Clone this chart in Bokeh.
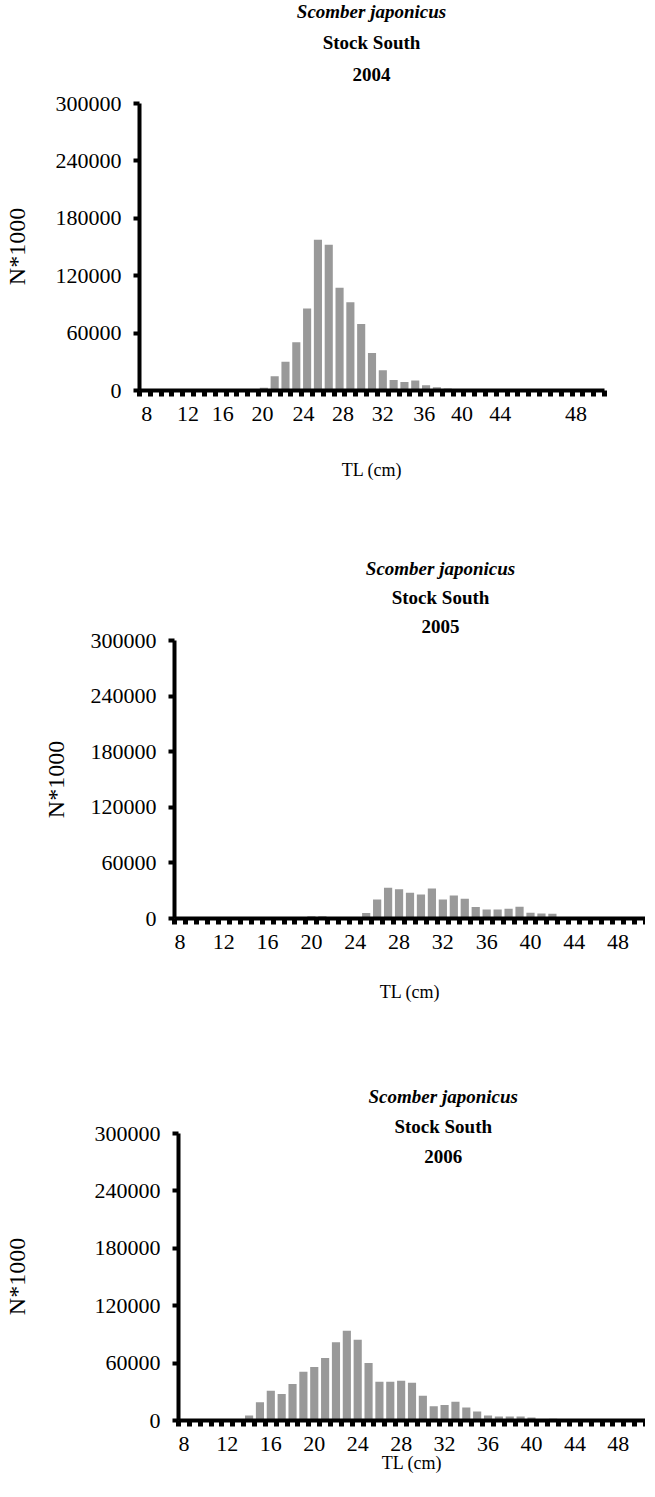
from bokeh.plotting import figure
from bokeh.models import FixedTicker, Label, Range1d, NumeralTickFormatter
from bokeh.embed import file_html
from bokeh.resources import INLINE

# ---------------- data ----------------
tl_cm = list(range(8, 51))  # length classes, 1 cm

n_2004 = [0, 0, 0, 0, 0, 0, 0, 0, 0, 0, 0,            # 8-18
          2800, 15000, 30000, 50400, 85600, 157600,   # 19-24
          152300, 107500, 92200, 69600, 39300, 21200, # 25-30
          11000, 9000, 10400, 5500, 3500, 2100, 1000, # 31-37
          0, 0, 0, 0, 0, 0, 0, 0, 0, 0, 0, 0, 0]      # 38-50

n_2005 = [0, 0, 0, 0, 0, 0, 0, 0, 0, 0, 0, 0,         # 8-19
          2500, 2500, 0, 0, 0, 6000,                  # 20-25
          20500, 33300, 31500, 27800, 26000, 32500,   # 26-31
          20500, 24900, 21300, 12500, 9800, 9800,     # 32-37
          10400, 12700, 6200, 5500, 5100, 1000,       # 38-43
          0, 0, 0, 0, 0, 0, 0]                        # 44-50

n_2006 = [0, 0, 0, 0, 0, 0,                           # 8-13
          5200, 19000, 31200, 27700, 38100, 51000,    # 14-19
          56000, 65400, 81700, 93700, 84400, 60000,   # 20-25
          40500, 40500, 41500, 39500, 26000, 14900,   # 26-31
          16300, 19700, 13500, 9300, 5200, 4200,      # 32-37
          4200, 4200, 3100, 1000, 1700,               # 38-42
          0, 0, 0, 0, 0, 0, 0, 0]                     # 43-50

y_ticks = [0, 60000, 120000, 180000, 240000, 300000]
x_tick_labels = ["8", "12", "16", "20", "24", "28", "32", "36", "40", "44", "48"]
x_tick_values = [8, 12, 16, 20, 24, 28, 32, 36, 40, 44, 48]
species = "Scomber japonicus"
stock = "Stock South"
years = ["2004", "2005", "2006"]
x_title = "TL (cm)"
y_title = "N*1000"

# ---------------- style ----------------
FONT = "Liberation Serif"
BAR = "#999999"
FIG_W = 645
Y_MAX = 300000
YLAB_PX = 24
NBSP_PX = 0.25 * YLAB_PX


def make_panel(values, year, height, b_left, b_right, b_top, b_bottom,
               label_shift, title_px, title_rows, ylab_standoff, xlab_standoff):
    # the frame reaches the figure top; the y axis itself is bounded to 0..300000
    axis_h = height - b_top - b_bottom
    y_top = Y_MAX * (b_top + axis_h) / axis_h
    p = figure(width=FIG_W, height=height,
               x_range=Range1d(7.5, 50.5), y_range=Range1d(0, y_top),
               output_backend="svg", toolbar_location=None,
               min_border_left=b_left, min_border_right=b_right,
               min_border_top=0, min_border_bottom=b_bottom)
    p.vbar(x=tl_cm, top=values, width=0.75, fill_color=BAR, line_color=None)

    p.xgrid.grid_line_color = None
    p.ygrid.grid_line_color = None
    p.outline_line_color = None
    p.background_fill_color = "white"
    p.border_fill_color = "white"

    # x axis: tick marks between classes, labels every 4 cm
    xa = p.xaxis[0]
    pos = [round(v + s, 2) for v, s in zip(x_tick_values, label_shift)]
    xa.ticker = FixedTicker(ticks=pos, minor_ticks=[c - 0.5 for c in tl_cm] + [tl_cm[-1] + 0.5])
    xa.major_label_overrides = {k: t for k, t in zip(pos, x_tick_labels)}
    xa.axis_line_width = 4
    xa.axis_line_color = "black"
    xa.major_tick_line_color = None
    xa.major_tick_out = 0
    xa.major_tick_in = 0
    xa.minor_tick_out = 6
    xa.minor_tick_in = 0
    xa.minor_tick_line_width = 5
    xa.minor_tick_line_color = "black"
    xa.major_label_standoff = 10
    xa.major_label_text_font = FONT
    xa.major_label_text_font_size = "22px"
    xa.major_label_text_color = "black"
    xa.axis_label = x_title
    xa.axis_label_text_font = FONT
    xa.axis_label_text_font_size = "18px"
    xa.axis_label_text_font_style = "normal"
    xa.axis_label_text_color = "black"
    xa.axis_label_standoff = xlab_standoff

    ya = p.yaxis[0]
    ya.bounds = (0, Y_MAX)
    ya.ticker = FixedTicker(ticks=y_ticks)
    ya.formatter = NumeralTickFormatter(format="0")
    ya.axis_line_width = 4
    ya.axis_line_color = "black"
    ya.major_tick_out = 6
    ya.major_tick_in = 0
    ya.major_tick_line_width = 4
    ya.major_tick_line_color = "black"
    ya.minor_tick_line_color = None
    ya.major_label_standoff = 12
    ya.major_label_text_font = FONT
    ya.major_label_text_font_size = "22px"
    ya.major_label_text_color = "black"
    # the axis title is centred on the whole frame; pad its upper end so that
    # the visible text sits at the middle of the 0..300000 axis
    pad = int(round(b_top / NBSP_PX))
    ya.axis_label = y_title + "\u00a0" * pad
    ya.axis_label_text_font = FONT
    ya.axis_label_text_font_size = f"{YLAB_PX}px"
    ya.axis_label_text_font_style = "normal"
    ya.axis_label_text_color = "black"
    ya.axis_label_standoff = ylab_standoff

    # title block (three lines); rows are figure-local pixel rows
    frame_w = FIG_W - b_left - b_right
    cat_px = frame_w / 43.0
    tx = 7.5 + (title_px - b_left) / cat_px
    texts = [(species, "bold italic"), (stock, "bold"), (year, "bold")]
    for (txt, style), row in zip(texts, title_rows):
        ty = Y_MAX + (b_top - row) * Y_MAX / axis_h
        p.add_layout(Label(x=tx, y=ty, text=txt, text_align="center",
                           text_baseline="middle", text_font=FONT,
                           text_font_size="19px", text_font_style=style,
                           text_color="black"))
    return p


shift_2004 = [0.17, -0.01, -0.8, -1.13, -1.34, -1.68, -2.01, -2.16, -2.67, -3.13, -0.13]
no_shift = [0] * 11

p1 = make_panel(n_2004, years[0], 490, 135, 41, 103, 100, shift_2004,
                369, [11, 42, 74], 23, 36)
p2 = make_panel(n_2005, years[1], 522, 174, 0, 150, 94, no_shift,
                440, [78, 107, 136], 19, 30)
p3 = make_panel(n_2006, years[2], 470, 174, 0, 121, 62, no_shift,
                441, [84, 114, 144], 62, -1)

open("out.html", "w").write(file_html([p1, p2, p3], INLINE))
